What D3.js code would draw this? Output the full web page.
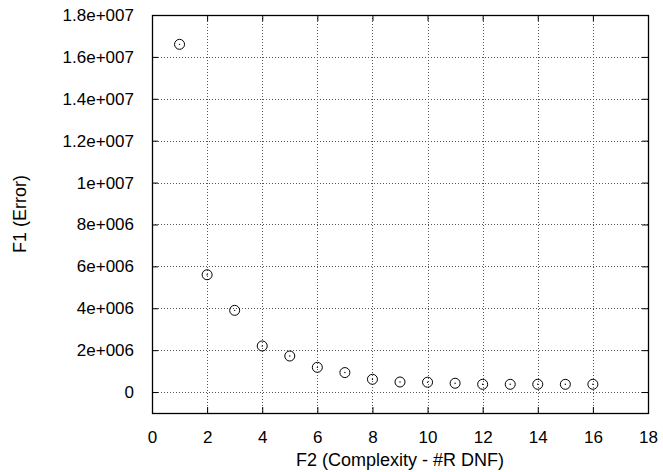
<!DOCTYPE html>
<html>
<head>
<meta charset="utf-8">
<script src="https://cdn.jsdelivr.net/npm/d3@7"></script>
<style>
  html, body { margin: 0; padding: 0; background: #fff; }
  svg { display: block; font-family: "Liberation Sans", Arial, Helvetica, sans-serif; }
</style>
</head>
<body>
<div id="chart"></div>
<script>
// ---- data ----
const complexity = [1, 2, 3, 4, 5, 6, 7, 8, 9, 10, 11, 12, 13, 14, 15, 16];
const errorValues = [16600000, 5600000, 3900000, 2200000, 1720000, 1180000, 930000, 610000,
                     480000, 470000, 420000, 370000, 370000, 370000, 370000, 370000];
const xTicks = [0, 2, 4, 6, 8, 10, 12, 14, 16, 18];
const yTicks = [0, 2e6, 4e6, 6e6, 8e6, 1e7, 1.2e7, 1.4e7, 1.6e7, 1.8e7];
const yTickLabels = ["0", "2e+006", "4e+006", "6e+006", "8e+006", "1e+007",
                     "1.2e+007", "1.4e+007", "1.6e+007", "1.8e+007"];
const xLabel = "F2 (Complexity - #R DNF)";
const yLabel = "F1 (Error)";

// ---- layout ----
const W = 663, H = 472;
const margin = { top: 15, right: 15, bottom: 59, left: 152 };
const iw = W - margin.left - margin.right;
const ih = H - margin.top - margin.bottom;

const svg = d3.select("#chart").append("svg").attr("width", W).attr("height", H);
const g = svg.append("g").attr("transform", `translate(${margin.left},${margin.top})`);

const x = d3.scaleLinear().domain([0, 18]).range([0, iw]);
const y = d3.scaleLinear().domain([-1e6, 1.8e7]).range([ih, 0]);

// grid
const grid = g.append("g");
grid.selectAll("line.gx").data(xTicks.filter(d => d > 0 && d < 18)).join("line")
  .attr("x1", d => Math.round(x(d)) + 0.5).attr("x2", d => Math.round(x(d)) + 0.5)
  .attr("y1", 0).attr("y2", ih)
  .attr("stroke", "#555").attr("stroke-width", 1).attr("stroke-dasharray", "1,2");
grid.selectAll("line.gy").data(yTicks.filter(d => d < 1.8e7)).join("line")
  .attr("y1", d => Math.round(y(d)) + 0.5).attr("y2", d => Math.round(y(d)) + 0.5)
  .attr("x1", 0).attr("x2", iw)
  .attr("stroke", "#555").attr("stroke-width", 1).attr("stroke-dasharray", "1,2");

// axes (inward ticks, mirrored)
const fontSize = 17;
const yLabelMap = new Map(yTicks.map((t, i) => [t, yTickLabels[i]]));
const axL = d3.axisLeft(y).tickValues(yTicks).tickSize(-6).tickPadding(18)
  .tickFormat(d => yLabelMap.get(d));
const axB = d3.axisBottom(x).tickValues(xTicks).tickSize(-6).tickPadding(18);
const axR = d3.axisRight(y).tickValues(yTicks).tickSize(-6).tickFormat("");
const axT = d3.axisTop(x).tickValues(xTicks).tickSize(-6).tickFormat("");

function style(sel) {
  sel.select(".domain").remove();
  sel.selectAll(".tick line").attr("stroke", "#000").attr("stroke-width", 1);
  sel.selectAll(".tick text").attr("fill", "#000").style("font-size", fontSize + "px")
    .style("font-family", '"Liberation Sans", Arial, sans-serif');
}
g.append("g").call(axL).call(style);
g.append("g").attr("transform", `translate(0,${ih})`).call(axB).call(style)
  .selectAll(".tick text").attr("dy", "0.71em");
g.append("g").attr("transform", `translate(${iw},0)`).call(axR).call(style);
g.append("g").call(axT).call(style);

// frame
g.append("rect").attr("x", 0.5).attr("y", 0.5).attr("width", iw).attr("height", ih)
  .attr("fill", "none").attr("stroke", "#000").attr("stroke-width", 1.3);

// points
const pts = g.append("g").selectAll("g").data(complexity.map((c, i) => [c, errorValues[i]])).join("g")
  .attr("transform", d => `translate(${x(d[0])},${y(d[1])})`);
pts.append("circle").attr("r", 5).attr("fill", "none").attr("stroke", "#000").attr("stroke-width", 1);
pts.append("circle").attr("r", 0.7).attr("fill", "#000");

// labels
svg.append("text").attr("x", margin.left + iw / 2).attr("y", 466)
  .attr("text-anchor", "middle").style("font-size", "18px").attr("fill", "#000")
  .text(xLabel);
svg.append("text").attr("transform", `translate(26,${margin.top + ih / 2}) rotate(-90)`)
  .attr("text-anchor", "middle").style("font-size", "18px").attr("fill", "#000")
  .text(yLabel);
</script>
</body>
</html>
